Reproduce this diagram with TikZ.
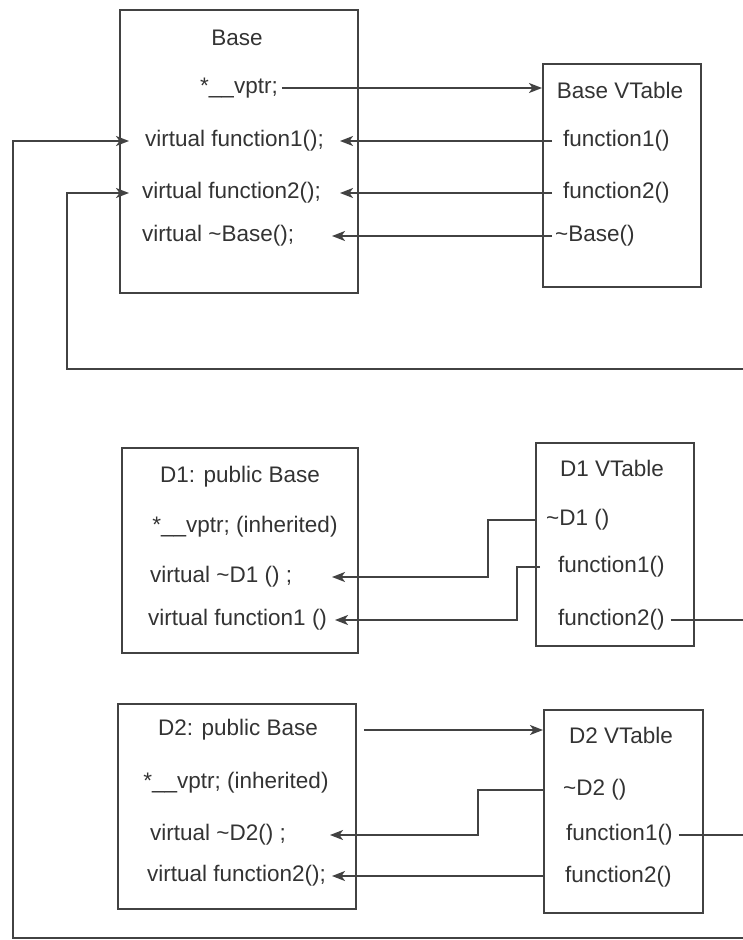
\documentclass[tikz,border=0pt]{standalone}
\usepackage{fontspec}
\setmainfont{Liberation Sans}
\usetikzlibrary{arrows.meta,calc}
\definecolor{ink}{HTML}{424242}
\definecolor{txt}{HTML}{333333}
\begin{document}
\begin{tikzpicture}[x=1pt,y=-1pt,
  box/.style={draw=ink, line width=1.8pt, anchor=north west, inner sep=0pt},
  lbl/.style={text=txt, font=\fontsize{22.5}{26}\selectfont, inner sep=0pt, anchor=west},
  ttl/.style={lbl, anchor=center},
  wire/.style={draw=ink, line width=1.8pt},
  arr/.style={wire, -{Stealth[length=13pt,width=10pt,inset=3.5pt]}}]
\useasboundingbox (0,0) rectangle (743,940);

% ---------- class Base and its vtable ----------
\node[box, minimum width=238pt, minimum height=283pt] (base) at (119,9) {};
\node[ttl] (btitle) at (237,38) {Base};
\node[ttl] (bvptr)  at (239,88) {*\_\_vptr;};
\node[lbl] (bf1)    at (145,141) {virtual function1();};
\node[lbl] (bf2)    at (142,193) {virtual function2();};
\node[lbl] (bdtor)  at (142,236) {virtual \textasciitilde Base();};

\node[box, minimum width=158pt, minimum height=223pt] (bvt) at (542,63) {};
\node[ttl] (bvtitle) at (620,90) {Base VTable};
\node[lbl] (bvf1)   at (563,141) {function1()};
\node[lbl] (bvf2)   at (563,193) {function2()};
\node[lbl] (bvdtor) at (555,236) {\textasciitilde Base()};

% ---------- class D1 and its vtable ----------
\node[box, minimum width=236pt, minimum height=205pt] (d1) at (121,447) {};
\node[ttl] (d1title) at (240,477) {D1: public Base};
\node[ttl] (d1vptr)  at (245,527) {*\_\_vptr; (inherited)};
\node[lbl] (d1dtor)  at (150,577) {virtual \textasciitilde D1 () ;};
\node[lbl] (d1f1)    at (148,620) {virtual function1 ()};

\node[box, minimum width=158pt, minimum height=203pt] (d1vt) at (535,442) {};
\node[ttl] (d1vtitle) at (612,468) {D1 VTable};
\node[lbl] (d1vdtor)  at (546,520) {\textasciitilde D1 ()};
\node[lbl] (d1vf1)    at (558,567) {function1()};
\node[lbl] (d1vf2)    at (558,620) {function2()};

% ---------- class D2 and its vtable ----------
\node[box, minimum width=238pt, minimum height=205pt] (d2) at (117,703) {};
\node[ttl] (d2title) at (238,730) {D2: public Base};
\node[ttl] (d2vptr)  at (236,783) {*\_\_vptr; (inherited)};
\node[lbl] (d2dtor)  at (150,835) {virtual \textasciitilde D2() ;};
\node[lbl] (d2f2)    at (147,876) {virtual function2();};

\node[box, minimum width=159pt, minimum height=203pt] (d2vt) at (543,709) {};
\node[ttl] (d2vtitle) at (621,735) {D2 VTable};
\node[lbl] (d2vdtor)  at (563,790) {\textasciitilde D2 ()};
\node[lbl] (d2vf1)    at (566,835) {function1()};
\node[lbl] (d2vf2)    at (565,877) {function2()};

% ---------- routing columns and rows ----------
\coordinate (colL)   at (13,0);
\coordinate (colM)   at (67,0);
\coordinate (edgeR)  at (743,0);
\coordinate (rowMid) at (0,369);
\coordinate (rowBot) at (0,938);
\coordinate (tipA)   at (340,0);
\coordinate (tipB)   at (332,0);
\coordinate (jog1)   at (488,0);
\coordinate (jog2)   at (517,0);
\coordinate (jog3)   at (478,0);

% Base: vptr to its table, table slots back to the members
\draw[arr] ($(bvptr.east)+(4,0)$) -- (bvt.west |- bvptr);
\draw[arr] ($(bvf1.west)+(-11,0)$) -- (tipA |- bvf1);
\draw[arr] ($(bvf2.west)+(-11,0)$) -- (tipA |- bvf2);
\draw[arr] ($(bvdtor.west)+(-3,0)$) -- (tipB |- bvdtor);

% D1 table slots
\draw[arr] (d1vt.west |- d1vdtor) -- (jog1 |- d1vdtor) -- (jog1 |- d1dtor) -- (tipB |- d1dtor);
\draw[arr] ($(d1vf1.west)+(-18,0)$) -- (jog2 |- d1vf1) -- (jog2 |- d1f1) -- ($(tipB |- d1f1)+(3,0)$);
\draw[wire] ($(d1vf2.east)+(6,0)$) -- (edgeR |- d1vf2);

% D2: header to its table, table slots
\draw[arr] ($(d2.east |- d2title)+(7,0)$) -- (d2vt.west |- d2title);
\draw[arr] (d2vt.west |- d2vdtor) -- (jog3 |- d2vdtor) -- (jog3 |- d2dtor) -- ($(tipB |- d2dtor)+(-2,0)$);
\draw[arr] (d2vt.west |- d2f2) -- (tipB |- d2f2);
\draw[wire] ($(d2vf1.east)+(6,0)$) -- (edgeR |- d2vf1);

% long return paths into Base
\draw[arr] (edgeR |- rowBot) -- (colL |- rowBot) -- (colL |- bf1) -- ($(base.west |- bf1)+(10,0)$);
\draw[arr] (edgeR |- rowMid) -- (colM |- rowMid) -- (colM |- bf2) -- ($(base.west |- bf2)+(10,0)$);
\end{tikzpicture}
\end{document}
